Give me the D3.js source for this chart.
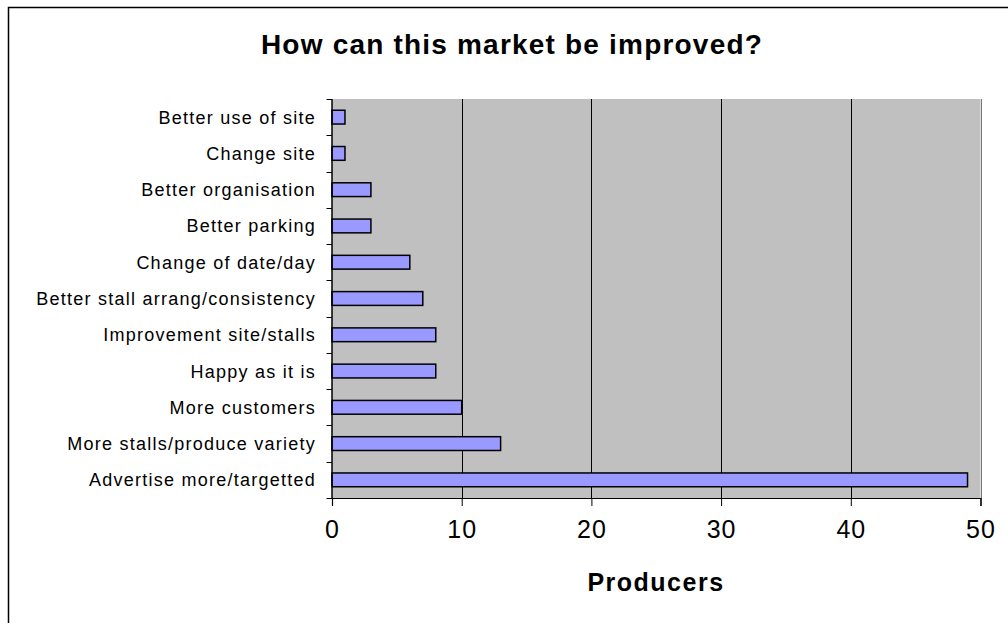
<!DOCTYPE html>
<html><head><meta charset="utf-8">
<script src="https://cdn.jsdelivr.net/npm/d3@7"></script>
<style>
html,body{margin:0;padding:0;background:#fff;}
svg{display:block;font-family:"Liberation Sans",Arial,sans-serif;}
</style></head>
<body><svg id="c" width="1008" height="623"></svg>
<script>
const categories = ["Better use of site","Change site","Better organisation","Better parking","Change of date/day","Better stall arrang/consistency","Improvement site/stalls","Happy as it is","More customers","More stalls/produce variety","Advertise more/targetted"];
const values = [1,1,3,3,6,7,8,8,10,13,49];
const xTicks = [0,10,20,30,40,50];
const title = "How can this market be improved?";
const xTitle = "Producers";

const svg = d3.select("#c");
const L = 332, R = 980.5, T = 99, B = 498;

svg.append("rect").attr("x",8.5).attr("y",7.5).attr("width",1100).attr("height",700)
  .attr("fill","#fff").attr("stroke","#000").attr("stroke-width",1.5);

const x = d3.scaleLinear().domain([0,50]).range([L,R]);
const y = d3.scaleBand().domain(categories).range([T,B]).paddingInner(0.62).paddingOuter(0.31);

svg.append("rect").attr("x",L).attr("y",T).attr("width",R-L).attr("height",B-T).attr("fill","#c0c0c0");

svg.append("g").selectAll("line").data(xTicks.slice(1)).join("line")
  .attr("x1",d=>Math.round(x(d))+0.5).attr("x2",d=>Math.round(x(d))+0.5)
  .attr("y1",T).attr("y2",B).attr("stroke",(d,i)=>d===50?"#777":"#000").attr("stroke-width",1);

svg.append("g").selectAll("rect").data(values).join("rect")
  .attr("x",x(0)).attr("y",(d,i)=>y(categories[i]))
  .attr("width",d=>x(d)-x(0)).attr("height",y.bandwidth())
  .attr("fill","#9999ff").attr("stroke","#000").attr("stroke-width",1.5);

// x axis
const xa = svg.append("g").attr("transform",`translate(0,${B})`)
  .call(d3.axisBottom(x).tickValues(xTicks).tickSize(8).tickPadding(14).tickFormat(d3.format("d")));
xa.select(".domain").attr("stroke","#000").attr("stroke-width",1.2);
xa.selectAll(".tick line").attr("stroke","#000");
xa.selectAll("text").attr("font-size",25).attr("fill","#000").attr("letter-spacing","1px")
  .attr("font-family","'Liberation Sans',Arial,sans-serif");

// y axis
const bounds = d3.range(categories.length+1).map(i => T + i*(B-T)/categories.length);
svg.append("line").attr("x1",L).attr("x2",L).attr("y1",T).attr("y2",B).attr("stroke","#000").attr("stroke-width",1.5);
svg.append("g").selectAll("line").data(bounds).join("line")
  .attr("x1",L-5.5).attr("x2",L).attr("y1",d=>Math.round(d)+0.5).attr("y2",d=>Math.round(d)+0.5)
  .attr("stroke","#000").attr("stroke-width",1);
svg.append("g").selectAll("text").data(categories).join("text")
  .attr("x",316).attr("y",d=>y(d)+y.bandwidth()/2).attr("dy","0.36em")
  .attr("text-anchor","end").attr("font-size",18).attr("letter-spacing","1.25px").attr("fill","#000")
  .text(d=>d);

svg.append("text").attr("x",512).attr("y",54).attr("text-anchor","middle")
  .attr("font-size",28).attr("font-weight","bold").attr("letter-spacing","1.2px").text(title);
svg.append("text").attr("x",656).attr("y",591).attr("text-anchor","middle")
  .attr("font-size",25).attr("font-weight","bold").attr("letter-spacing","1.5px").text(xTitle);
</script></body></html>
